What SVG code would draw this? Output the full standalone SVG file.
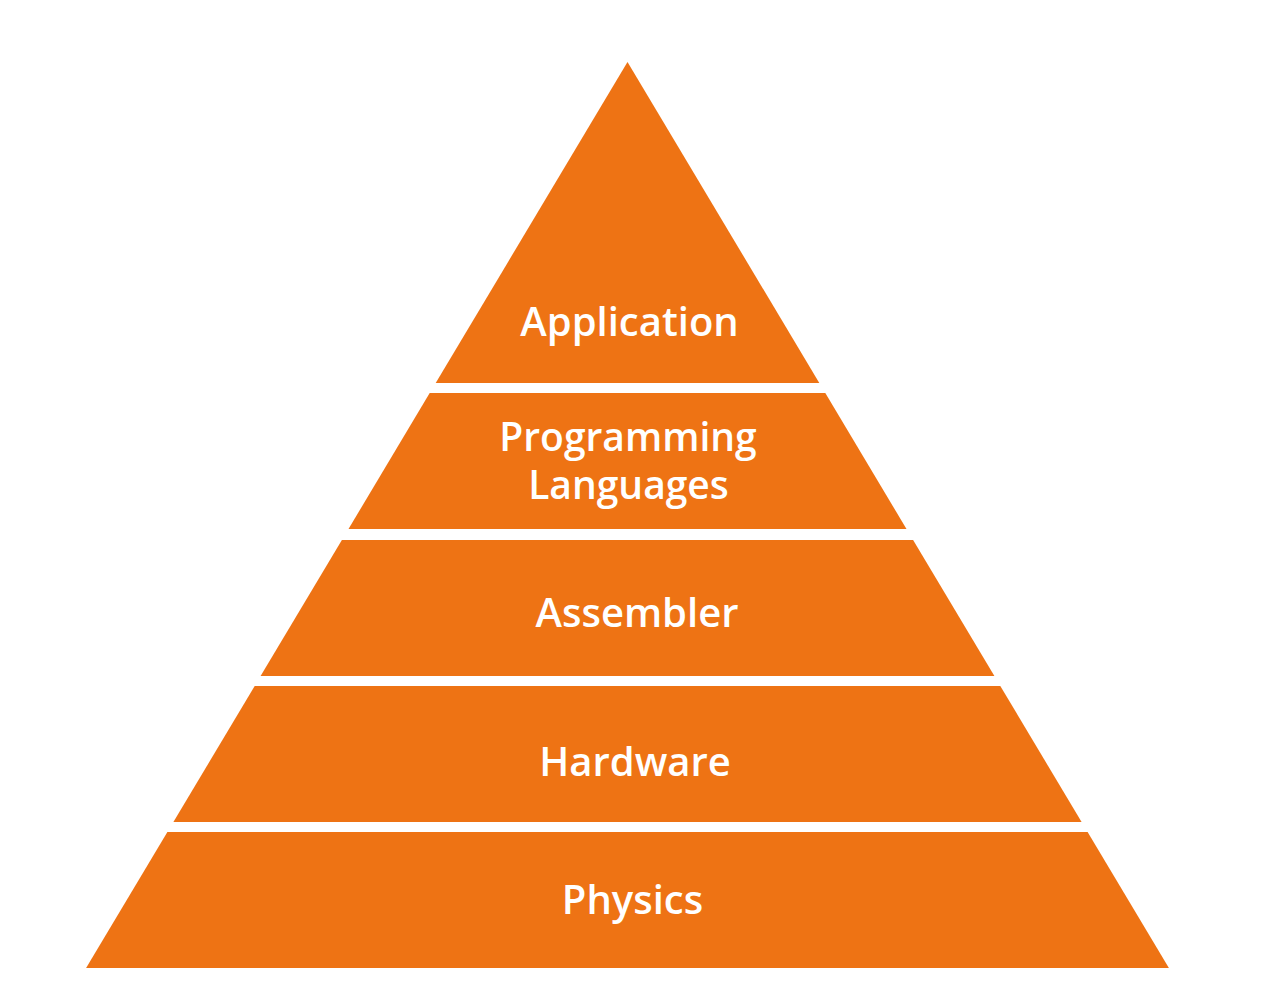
<svg xmlns="http://www.w3.org/2000/svg" width="1279" height="984" viewBox="0 0 1279 984">
<style>
.layer{fill:#EE7314}
.lbl{font-family:"Open Sans","Noto Sans","Liberation Sans",sans-serif;font-weight:600;font-size:40px;fill:#FFFFFF;text-anchor:middle}
.two{font-size:39px}
</style>
<rect x="0" y="0" width="1279" height="984" fill="#FFFFFF"/>
<g id="application">
<polygon class="layer" points="627.5,62 819.3,383 435.7,383"/>
<text class="lbl" x="629.5" y="336">Application</text>
</g>
<g id="programming-languages">
<polygon class="layer" points="429.7,393 825.3,393 906.5,529 348.5,529"/>
<text class="lbl two" x="628" y="451">Programming</text>
<text class="lbl two" x="628.5" y="499">Languages</text>
</g>
<g id="assembler">
<polygon class="layer" points="341.9,540 913.1,540 994.4,676 260.6,676"/>
<text class="lbl" x="637" y="627">Assembler</text>
</g>
<g id="hardware">
<polygon class="layer" points="254.7,686 1000.3,686 1081.6,822 173.4,822"/>
<text class="lbl" x="635" y="776">Hardware</text>
</g>
<g id="physics">
<polygon class="layer" points="167.4,832 1087.6,832 1168.9,968 86.1,968"/>
<text class="lbl" x="632.5" y="914">Physics</text>
</g>
<g id="connectors"></g>
</svg>
